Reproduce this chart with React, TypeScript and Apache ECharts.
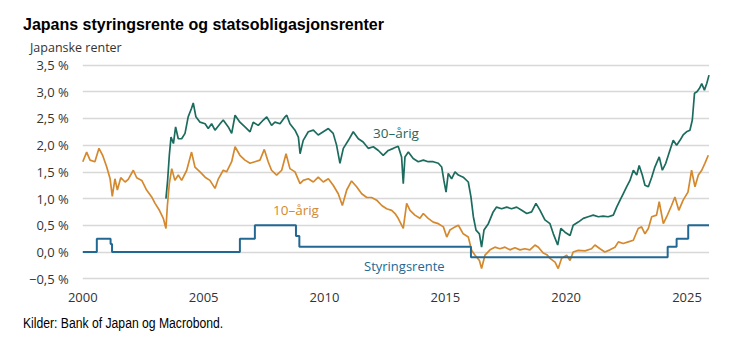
import React, { useEffect, useRef } from "react";
import * as echarts from "echarts";

// Decimal year, percent
const tenYear: [number, number][] = [
  [2000.0, 1.69], [2000.16, 1.87], [2000.3, 1.72], [2000.5, 1.69], [2000.67, 1.94], [2000.82, 1.81],
  [2000.99, 1.59], [2001.13, 1.37], [2001.22, 1.04], [2001.33, 1.37], [2001.43, 1.16], [2001.57, 1.39],
  [2001.75, 1.31], [2001.88, 1.36], [2002.09, 1.53], [2002.23, 1.39], [2002.44, 1.34], [2002.64, 1.16],
  [2002.85, 1.03], [2002.99, 0.91], [2003.17, 0.78], [2003.33, 0.63], [2003.44, 0.44], [2003.5, 0.87],
  [2003.58, 1.28], [2003.68, 1.56], [2003.81, 1.34], [2003.95, 1.44], [2004.09, 1.34], [2004.3, 1.53],
  [2004.5, 1.87], [2004.64, 1.59], [2004.85, 1.5], [2005.06, 1.4], [2005.26, 1.34], [2005.47, 1.19],
  [2005.61, 1.37], [2005.81, 1.53], [2005.95, 1.5], [2006.16, 1.69], [2006.3, 1.97], [2006.5, 1.81],
  [2006.71, 1.72], [2006.92, 1.66], [2007.12, 1.69], [2007.33, 1.72], [2007.51, 1.92], [2007.67, 1.69],
  [2007.81, 1.53], [2008.02, 1.44], [2008.23, 1.53], [2008.41, 1.84], [2008.57, 1.56], [2008.78, 1.5],
  [2008.99, 1.28], [2009.12, 1.34], [2009.33, 1.37], [2009.54, 1.31], [2009.74, 1.4], [2009.95, 1.31],
  [2010.16, 1.37], [2010.36, 1.25], [2010.57, 1.09], [2010.74, 0.87], [2010.92, 1.16], [2011.12, 1.33],
  [2011.33, 1.22], [2011.54, 1.09], [2011.75, 1.02], [2011.95, 1.02], [2012.16, 0.97], [2012.37, 0.87],
  [2012.57, 0.81], [2012.78, 0.78], [2012.92, 0.72], [2013.05, 0.63], [2013.26, 0.44], [2013.4, 0.91],
  [2013.54, 0.78], [2013.74, 0.69], [2013.95, 0.63], [2014.09, 0.72], [2014.29, 0.63], [2014.5, 0.56],
  [2014.71, 0.53], [2014.92, 0.47], [2015.06, 0.28], [2015.19, 0.41], [2015.4, 0.47], [2015.54, 0.5],
  [2015.74, 0.34], [2015.95, 0.28], [2016.09, 0.03], [2016.23, -0.06], [2016.41, -0.16], [2016.5, -0.31],
  [2016.64, -0.06], [2016.85, 0.04], [2017.05, 0.09], [2017.26, 0.06], [2017.47, 0.09], [2017.67, 0.04],
  [2017.88, 0.08], [2018.09, 0.04], [2018.29, 0.06], [2018.5, 0.04], [2018.71, 0.13], [2018.85, 0.09],
  [2019.05, -0.02], [2019.2, -0.05], [2019.33, -0.12], [2019.54, -0.19], [2019.67, -0.31], [2019.81, -0.12],
  [2020.02, -0.06], [2020.16, -0.16], [2020.29, 0.0], [2020.5, 0.03], [2020.78, 0.02], [2021.05, 0.06],
  [2021.19, 0.13], [2021.4, 0.06], [2021.6, 0.0], [2021.81, 0.04], [2022.02, 0.09], [2022.16, 0.19],
  [2022.36, 0.16], [2022.57, 0.19], [2022.78, 0.22], [2022.98, 0.44], [2023.12, 0.47], [2023.26, 0.34],
  [2023.4, 0.44], [2023.54, 0.66], [2023.74, 0.69], [2023.85, 0.94], [2024.02, 0.53], [2024.16, 0.66],
  [2024.36, 0.87], [2024.5, 1.03], [2024.66, 0.78], [2024.84, 0.97], [2025.04, 1.12], [2025.19, 1.53],
  [2025.33, 1.22], [2025.47, 1.44], [2025.61, 1.53], [2025.74, 1.66], [2025.88, 1.81],
];

const thirtyYear: [number, number][] = [
  [2003.44, 1.0], [2003.51, 1.34], [2003.58, 1.81], [2003.65, 2.15], [2003.75, 2.03], [2003.84, 2.34],
  [2003.95, 2.12], [2004.09, 2.12], [2004.23, 2.22], [2004.36, 2.53], [2004.5, 2.69], [2004.57, 2.79],
  [2004.68, 2.53], [2004.85, 2.43], [2005.06, 2.4], [2005.19, 2.31], [2005.33, 2.4], [2005.47, 2.28],
  [2005.68, 2.4], [2005.81, 2.47], [2006.02, 2.34], [2006.16, 2.22], [2006.3, 2.56], [2006.5, 2.43],
  [2006.71, 2.34], [2006.92, 2.25], [2007.05, 2.43], [2007.26, 2.37], [2007.47, 2.47], [2007.61, 2.53],
  [2007.81, 2.37], [2007.95, 2.43], [2008.16, 2.4], [2008.37, 2.53], [2008.44, 2.56], [2008.57, 2.4],
  [2008.78, 2.28], [2008.92, 2.15], [2008.99, 1.84], [2009.12, 2.09], [2009.33, 2.25], [2009.54, 2.28],
  [2009.74, 2.19], [2009.95, 2.25], [2010.16, 2.31], [2010.36, 2.22], [2010.5, 2.0], [2010.64, 1.66],
  [2010.78, 1.94], [2010.99, 2.09], [2011.19, 2.25], [2011.4, 2.12], [2011.6, 2.06], [2011.81, 1.94],
  [2012.02, 1.97], [2012.23, 1.9], [2012.43, 1.81], [2012.64, 1.9], [2012.85, 1.94], [2013.05, 1.98],
  [2013.19, 1.78], [2013.26, 1.28], [2013.33, 1.78], [2013.47, 1.87], [2013.67, 1.75], [2013.88, 1.69],
  [2014.09, 1.72], [2014.29, 1.69], [2014.5, 1.69], [2014.71, 1.66], [2014.85, 1.59], [2014.94, 1.34],
  [2015.03, 1.12], [2015.12, 1.47], [2015.26, 1.37], [2015.4, 1.5], [2015.54, 1.44], [2015.74, 1.4],
  [2015.95, 1.31], [2016.06, 1.03], [2016.16, 0.66], [2016.27, 0.41], [2016.41, 0.34], [2016.5, 0.09],
  [2016.6, 0.41], [2016.78, 0.53], [2016.98, 0.75], [2017.12, 0.84], [2017.33, 0.81], [2017.54, 0.84],
  [2017.74, 0.81], [2017.95, 0.84], [2018.16, 0.78], [2018.37, 0.72], [2018.57, 0.75], [2018.75, 0.91],
  [2018.92, 0.78], [2019.12, 0.6], [2019.33, 0.53], [2019.47, 0.34], [2019.65, 0.13], [2019.78, 0.44],
  [2019.95, 0.37], [2020.16, 0.31], [2020.29, 0.5], [2020.5, 0.56], [2020.71, 0.63], [2020.91, 0.66],
  [2021.12, 0.69], [2021.33, 0.66], [2021.53, 0.67], [2021.74, 0.66], [2021.95, 0.69], [2022.09, 0.84],
  [2022.23, 0.97], [2022.36, 1.09], [2022.5, 1.22], [2022.64, 1.34], [2022.78, 1.53], [2022.92, 1.44],
  [2023.02, 1.62], [2023.15, 1.44], [2023.26, 1.25], [2023.4, 1.22], [2023.54, 1.4], [2023.67, 1.59],
  [2023.85, 1.78], [2023.98, 1.53], [2024.12, 1.66], [2024.29, 1.9], [2024.43, 2.09], [2024.57, 2.0],
  [2024.71, 2.09], [2024.84, 2.19], [2024.98, 2.25], [2025.12, 2.28], [2025.22, 2.47], [2025.31, 2.97],
  [2025.41, 3.0], [2025.51, 3.06], [2025.61, 3.15], [2025.72, 3.03], [2025.82, 3.16], [2025.91, 3.31],
];

const policyRate: [number, number][] = [
  [2000.0, 0], [2000.58, 0.25], [2001.15, 0.15], [2001.21, 0], [2006.5, 0.25], [2007.12, 0.5],
  [2008.82, 0.3], [2008.96, 0.1], [2016.06, -0.1], [2024.2, 0.1], [2024.57, 0.25], [2025.05, 0.5],
  [2025.91, 0.5],
];

const xTickYears = [2000, 2005, 2010, 2015, 2020, 2025];
const yTicks = [-0.5, 0, 0.5, 1, 1.5, 2, 2.5, 3, 3.5];

const TITLE = "Japans styringsrente og statsobligasjonsrenter";
const Y_NAME = "Japanske renter";
const SOURCE = "Kilder: Bank of Japan og Macrobond.";
const LABEL_30 = "30–årig";
const LABEL_10 = "10–årig";
const LABEL_POLICY = "Styringsrente";

const TEAL = "#1b6b5e";
const ORANGE = "#d5892e";
const BLUE = "#236893";
const AXIS_FONT = "'Open Sans', 'Noto Sans', sans-serif";

function fmtY(v: number): string {
  const s = Math.abs(v).toFixed(1).replace(".", ",");
  return (v < 0 ? "−" : "") + s + " %";
}

export default function App() {
  const ref = useRef<HTMLDivElement>(null);
  useEffect(() => {
    document.body.style.margin = "0";
    const chart = echarts.init(ref.current!, null, { renderer: "svg" });
    chart.setOption({
      animation: false,
      backgroundColor: "#ffffff",
      grid: { left: 82.8, right: 25, top: 65, bottom: 74.3, containLabel: false },
      xAxis: {
        type: "value",
        min: xTickYears[0],
        max: 2025.91,
        interval: 5,
        axisLine: { show: false },
        axisTick: { show: false },
        splitLine: { show: false },
        axisLabel: {
          showMaxLabel: false,
          margin: 12,
          fontFamily: AXIS_FONT,
          fontSize: 13,
          color: "#333333",
          formatter: (v: number) =>
            xTickYears.includes(Math.round(v)) && Math.abs(v - Math.round(v)) < 1e-6 ? String(Math.round(v)) : "",
        },
      },
      yAxis: {
        type: "value",
        min: yTicks[0],
        max: yTicks[yTicks.length - 1],
        interval: 0.5,
        axisLine: { show: false },
        axisTick: { show: false },
        splitLine: { show: true, lineStyle: { color: "#d8d8d8", width: 1.3 } },
        axisLabel: {
          margin: 14,
          fontFamily: AXIS_FONT,
          fontSize: 13,
          color: "#333333",
          formatter: fmtY,
        },
      },
      series: [
        {
          type: "line",
          name: LABEL_10,
          data: tenYear,
          showSymbol: false,
          lineStyle: { color: ORANGE, width: 1.7 },
          itemStyle: { color: ORANGE },
        },
        {
          type: "line",
          name: LABEL_30,
          data: thirtyYear,
          showSymbol: false,
          lineStyle: { color: TEAL, width: 1.7 },
          itemStyle: { color: TEAL },
        },
        {
          type: "line",
          name: LABEL_POLICY,
          data: policyRate,
          step: "end",
          showSymbol: false,
          lineStyle: { color: BLUE, width: 2 },
          itemStyle: { color: BLUE },
        },
      ],
      graphic: [
        {
          type: "text",
          x: 23,
          y: 24,
          style: {
            text: TITLE,
            fontFamily: "'Liberation Sans', Arial, sans-serif",
            fontWeight: "bold",
            fontSize: 16,
            fill: "#000",
            textVerticalAlign: "middle",
          },
        },
        {
          type: "text",
          x: 30,
          y: 47,
          style: {
            text: Y_NAME,
            fontFamily: AXIS_FONT,
            fontSize: 12.5,
            fill: "#333333",
            textVerticalAlign: "middle",
          },
        },
        {
          type: "text",
          x: 23,
          y: 323,
          scaleX: 0.87,
          style: {
            text: SOURCE,
            fontFamily: "'Liberation Sans', Arial, sans-serif",
            fontSize: 14,
            fill: "#000",
            textVerticalAlign: "middle",
          },
        },
        {
          type: "text",
          x: 373,
          y: 132.5,
          style: { text: LABEL_30, fontFamily: AXIS_FONT, fontSize: 13.5, fill: TEAL, textVerticalAlign: "middle" },
        },
        {
          type: "text",
          x: 273,
          y: 210,
          style: { text: LABEL_10, fontFamily: AXIS_FONT, fontSize: 13.5, fill: ORANGE, textVerticalAlign: "middle" },
        },
        {
          type: "text",
          x: 364,
          y: 266,
          style: { text: LABEL_POLICY, fontFamily: AXIS_FONT, fontSize: 13, fill: BLUE, textVerticalAlign: "middle" },
        },
      ],
    });
    return () => chart.dispose();
  }, []);
  return <div ref={ref} style={{ width: 734, height: 353 }} />;
}
